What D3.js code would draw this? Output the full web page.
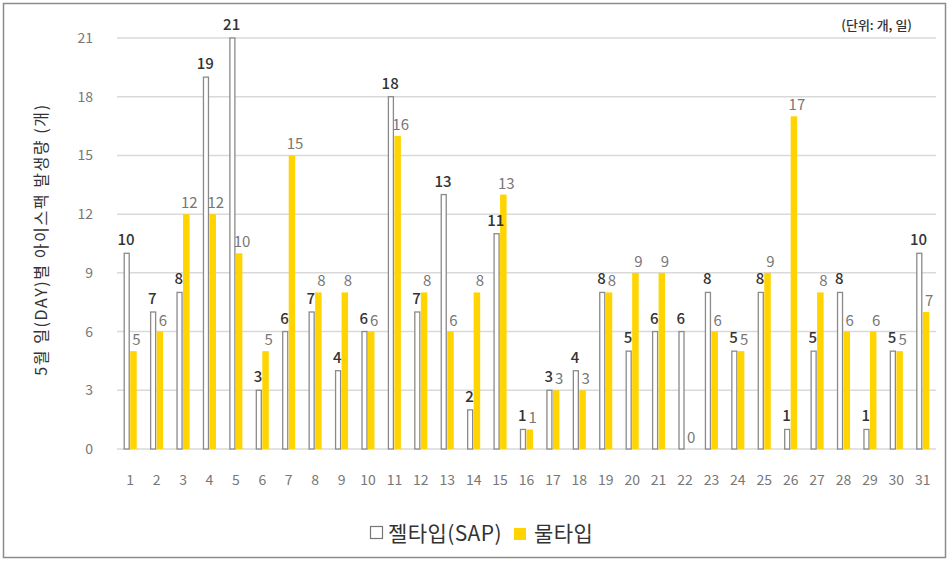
<!DOCTYPE html>
<html>
<head>
  <meta charset="utf-8">
  <script src="https://cdn.jsdelivr.net/npm/d3@7.0.0/dist/d3.min.js"></script>
  <style>
    body { margin: 0; background: #fff; }
    text { font-family: "Noto Sans CJK KR", "Noto Sans", sans-serif; }
  </style>
</head>
<body>
  <div id="chart"></div>
  <script>
    // days of May
    var days = d3.range(1, 32).map(String);
    // 젤타입(SAP)
    var gelValues = [10, 7, 8, 19, 21, 3, 6, 7, 4, 6, 18, 7, 13, 2, 11, 1, 3, 4, 8, 5, 6, 6, 8, 5, 8, 1, 5, 8, 1, 5, 10];
    // 물타입
    var waterValues = [5, 6, 12, 12, 10, 5, 15, 8, 8, 6, 16, 8, 6, 8, 13, 1, 3, 3, 8, 9, 9, 0, 6, 5, 9, 17, 8, 6, 6, 5, 7];
    var yTicks = [0, 3, 6, 9, 12, 15, 18, 21];
    var seriesNames = ["젤타입(SAP)", "물타입"];

    var W = 949, H = 561;
    var margin = { top: 38, right: 9, bottom: 112, left: 117 };
    var width = W - margin.left - margin.right;
    var height = H - margin.top - margin.bottom;

    var svg = d3.select("#chart").append("svg")
      .attr("width", W)
      .attr("height", H);

    // outer frame
    svg.append("rect")
      .attr("x", 3.5).attr("y", 3.5)
      .attr("width", W - 7).attr("height", H - 7)
      .attr("fill", "none")
      .attr("stroke", "#8c8c8c")
      .attr("stroke-width", 1.5);

    var g = svg.append("g")
      .attr("transform", "translate(" + margin.left + "," + margin.top + ")");

    var x = d3.scaleBand().domain(days).range([0, width - 4]);
    var y = d3.scaleLinear().domain([0, 21]).range([height, 0]);
    var barW = 6.5;

    // gridlines
    g.selectAll(".grid")
      .data(yTicks)
      .enter().append("line")
      .attr("x1", 0).attr("x2", width - 4)
      .attr("y1", function(d) { return y(d); })
      .attr("y2", function(d) { return y(d); })
      .attr("stroke", "#d9d9d9")
      .attr("stroke-width", 1.5);

    // y axis labels
    g.selectAll(".ytick")
      .data(yTicks)
      .enter().append("text")
      .attr("x", -24)
      .attr("y", function(d) { return y(d) + 5; })
      .attr("text-anchor", "end")
      .attr("font-size", 14)
      .attr("fill", "#777")
      .text(function(d) { return d; });

    // x axis labels
    g.selectAll(".xtick")
      .data(days)
      .enter().append("text")
      .attr("x", function(d) { return x(d) + x.bandwidth() / 2; })
      .attr("y", height + 36)
      .attr("text-anchor", "middle")
      .attr("font-size", 14)
      .attr("fill", "#777")
      .text(function(d) { return d; });

    // gel bars
    g.selectAll(".gel")
      .data(gelValues)
      .enter().append("rect")
      .attr("x", function(d, i) { return x(days[i]) + x.bandwidth() / 2 - barW + 0.5; })
      .attr("y", function(d) { return y(d); })
      .attr("width", barW - 1.5)
      .attr("height", function(d) { return height - y(d); })
      .attr("fill", "#fff")
      .attr("stroke", "#8a8a8a")
      .attr("stroke-width", 1.3);

    // water bars
    g.selectAll(".water")
      .data(waterValues)
      .enter().append("rect")
      .attr("x", function(d, i) { return x(days[i]) + x.bandwidth() / 2; })
      .attr("y", function(d) { return y(d); })
      .attr("width", barW)
      .attr("height", function(d) { return height - y(d); })
      .attr("fill", "#ffd400");

    // value labels
    g.selectAll(".gelLabel")
      .data(gelValues)
      .enter().append("text")
      .attr("x", function(d, i) { return x(days[i]) + x.bandwidth() / 2 - barW / 2 - 1; })
      .attr("y", function(d) { return y(d) - 8; })
      .attr("text-anchor", "middle")
      .attr("font-size", 15)
      .attr("font-weight", 500)
      .attr("fill", "#333")
      .text(function(d) { return d; });

    g.selectAll(".waterLabel")
      .data(waterValues)
      .enter().append("text")
      .attr("x", function(d, i) { return x(days[i]) + x.bandwidth() / 2 + barW / 2 + 3; })
      .attr("y", function(d) { return y(d) - 6; })
      .attr("text-anchor", "middle")
      .attr("font-size", 15)
      .attr("fill", "#777")
      .text(function(d) { return d; });

    // y axis title
    svg.append("text")
      .attr("transform", "translate(47," + (margin.top + height / 2 - 4) + ") rotate(-90)")
      .attr("text-anchor", "middle")
      .attr("font-size", 16)
      .attr("letter-spacing", 1.6)
      .attr("fill", "#333")
      .text("5월 일(DAY)별 아이스팩 발생량 (개)");

    // unit label
    svg.append("text")
      .attr("x", 912)
      .attr("y", 30)
      .attr("text-anchor", "end")
      .attr("font-size", 13)
      .attr("font-weight", 500)
      .attr("fill", "#333")
      .text("(단위: 개, 일)");

    // legend
    var legend = svg.append("g").attr("transform", "translate(0,533)");
    legend.append("rect")
      .attr("x", 370.5).attr("y", -6.5)
      .attr("width", 12).attr("height", 12)
      .attr("fill", "#fff").attr("stroke", "#777").attr("stroke-width", 1.2);
    legend.append("text")
      .attr("x", 388).attr("y", 8)
      .attr("font-size", 21).attr("letter-spacing", 0.4).attr("fill", "#333")
      .text(seriesNames[0]);
    legend.append("rect")
      .attr("x", 514).attr("y", -5)
      .attr("width", 12).attr("height", 12)
      .attr("fill", "#ffd400");
    legend.append("text")
      .attr("x", 534).attr("y", 8)
      .attr("font-size", 21).attr("letter-spacing", 0.4).attr("fill", "#333")
      .text(seriesNames[1]);
  </script>
</body>
</html>
